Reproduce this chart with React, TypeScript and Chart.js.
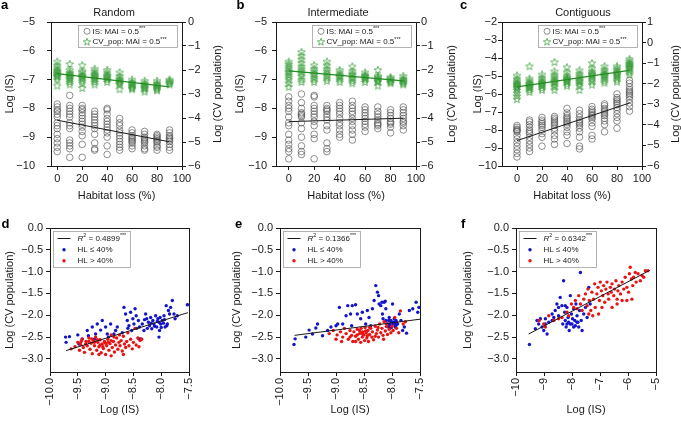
import React, { useEffect, useRef } from 'react';
import { Chart, registerables } from 'chart.js';

Chart.register(...registerables);

const FONT = "'Liberation Sans', Arial, Helvetica, sans-serif";
Chart.defaults.font.family = FONT;

// ---------------- data ----------------
const HABITAT_LOSS = [0, 10, 20, 30, 40, 50, 60, 70, 80, 90];
const FIT_X = [0, 90];

const A_IS = [
  [-7.85, -7.95, -8.05, -8.1, -8.2, -8.3, -8.5, -8.6, -8.7, -8.9, -9.05, -9.2, -9.35, -9.5],
  [-7.55, -7.9, -8.0, -8.1, -8.2, -8.3, -8.5, -8.6, -8.7, -9.1, -9.2, -9.3, -9.4, -9.7],
  [-7.9, -8.0, -8.05, -8.15, -8.25, -8.35, -8.45, -8.55, -8.65, -8.8, -8.95, -9.25, -9.7],
  [-8.1, -8.2, -8.3, -8.4, -8.5, -8.6, -8.7, -8.9, -9.2, -9.4, -9.45],
  [-8.0, -8.05, -8.2, -8.35, -8.45, -8.55, -8.65, -8.75, -8.85, -9.0, -9.3, -9.6],
  [-8.35, -8.5, -8.6, -8.75, -8.85, -8.95, -9.05, -9.15, -9.25, -9.35, -9.45],
  [-8.75, -8.85, -8.95, -9.0, -9.05, -9.1, -9.15, -9.2, -9.3, -9.4],
  [-8.8, -8.9, -9.0, -9.05, -9.1, -9.15, -9.2, -9.3, -9.4, -9.45],
  [-8.9, -8.95, -9.0, -9.05, -9.1, -9.15, -9.2, -9.3, -9.35, -9.45],
  [-8.75, -8.85, -8.95, -9.0, -9.05, -9.1, -9.15, -9.25, -9.35, -9.45],
];
const A_CV = [
  [-1.65, -1.8, -1.9, -2.0, -2.05, -2.1, -2.15, -2.2, -2.25, -2.3, -2.4, -2.65],
  [-1.75, -2.0, -2.1, -2.15, -2.2, -2.25, -2.3, -2.35, -2.4, -2.5, -2.6],
  [-1.8, -2.05, -2.1, -2.2, -2.25, -2.3, -2.35, -2.45, -2.55, -2.75],
  [-1.95, -2.05, -2.15, -2.2, -2.25, -2.3, -2.35, -2.4, -2.5, -2.6],
  [-2.0, -2.1, -2.2, -2.25, -2.3, -2.35, -2.4, -2.5],
  [-2.1, -2.25, -2.35, -2.4, -2.45, -2.5, -2.55, -2.6, -2.8],
  [-2.4, -2.5, -2.55, -2.6, -2.65, -2.7, -2.75, -2.8],
  [-2.45, -2.55, -2.6, -2.65, -2.7, -2.75, -2.8, -2.9],
  [-2.45, -2.55, -2.6, -2.65, -2.7, -2.75, -2.8, -2.85],
  [-2.4, -2.45, -2.5, -2.55, -2.6],
];
const A_IS_FIT = [-8.41, -9.16];
const A_CV_FIT = [-2.15, -2.7];

const B_IS = [
  [-7.6, -7.75, -7.9, -8.0, -8.1, -8.3, -8.5, -8.6, -8.9, -9.1, -9.25, -9.4, -9.5, -9.75],
  [-7.5, -7.8, -8.0, -8.15, -8.2, -8.25, -8.3, -8.5, -8.7, -9.0, -9.3, -9.5, -9.6],
  [-7.55, -7.6, -7.9, -8.0, -8.1, -8.2, -8.3, -8.45, -8.6, -8.9, -9.05, -9.75],
  [-7.9, -8.0, -8.05, -8.1, -8.2, -8.3, -8.4, -8.6, -8.75, -9.2, -9.4, -9.5],
  [-7.8, -7.9, -8.0, -8.1, -8.2, -8.35, -8.5, -8.6, -8.75, -8.9, -9.0],
  [-7.75, -7.9, -8.0, -8.1, -8.2, -8.35, -8.45, -8.6, -8.75, -8.9, -9.1],
  [-7.95, -8.05, -8.15, -8.25, -8.35, -8.45, -8.55, -8.65, -8.8],
  [-7.95, -8.1, -8.2, -8.3, -8.4, -8.5, -8.55, -8.6, -8.7],
  [-8.05, -8.15, -8.25, -8.35, -8.45, -8.5, -8.55, -8.65, -8.85],
  [-7.95, -8.05, -8.15, -8.25, -8.35, -8.45, -8.5, -8.6, -8.75],
];
const B_CV = [
  [-1.65, -1.75, -1.85, -1.95, -2.05, -2.1, -2.2, -2.3, -2.4, -2.55, -2.7],
  [-1.25, -1.4, -1.55, -1.7, -1.85, -1.95, -2.05, -2.15, -2.25, -2.4, -2.5],
  [-1.8, -1.95, -2.05, -2.15, -2.2, -2.3, -2.4, -2.5],
  [-1.65, -1.8, -1.95, -2.05, -2.15, -2.25, -2.35, -2.45],
  [-2.0, -2.1, -2.2, -2.25, -2.3, -2.4, -2.5],
  [-1.85, -2.05, -2.15, -2.2, -2.3, -2.35, -2.45, -2.55],
  [-2.1, -2.2, -2.25, -2.3, -2.35, -2.4, -2.5],
  [-2.0, -2.25, -2.3, -2.35, -2.4, -2.45, -2.5, -2.65],
  [-2.3, -2.35, -2.4, -2.45, -2.5, -2.55],
  [-2.25, -2.35, -2.4, -2.45, -2.5, -2.55, -2.6],
];
const B_IS_FIT = [-8.46, -8.34];
const B_CV_FIT = [-2.04, -2.45];

const C_IS = [
  [-7.75, -7.85, -7.95, -8.0, -8.05, -8.1, -8.3, -8.5, -8.7, -8.9, -9.1, -9.3, -9.5],
  [-7.45, -7.55, -7.7, -7.85, -8.0, -8.1, -8.2, -8.4, -8.6, -8.8, -9.0, -9.2],
  [-7.3, -7.45, -7.55, -7.65, -7.75, -7.85, -8.0, -8.2, -8.4, -8.9],
  [-7.25, -7.35, -7.45, -7.55, -7.65, -7.75, -7.9, -8.05, -8.3, -8.5, -8.8],
  [-6.8, -7.05, -7.2, -7.3, -7.4, -7.5, -7.6, -7.7, -7.85, -8.1, -8.3, -8.75],
  [-6.9, -7.1, -7.3, -7.45, -7.55, -7.65, -7.75, -7.9, -8.1, -8.4, -8.9, -9.05],
  [-6.7, -6.85, -6.95, -7.05, -7.15, -7.2, -7.3, -7.4, -7.6, -7.8, -8.3, -8.5],
  [-6.55, -6.65, -6.8, -6.9, -7.0, -7.1, -7.2, -7.35, -7.5, -7.7, -8.1],
  [-6.0, -6.2, -6.3, -6.4, -6.5, -6.6, -6.75, -6.9, -7.1, -7.3, -7.5, -7.9],
  [-5.25, -5.4, -5.6, -5.75, -5.85, -5.95, -6.05, -6.15, -6.3, -6.5, -6.7, -6.95],
];
const C_CV = [
  [-1.6, -1.75, -1.85, -1.95, -2.0, -2.05, -2.1, -2.15, -2.2, -2.3, -2.45, -2.6, -2.75],
  [-1.15, -1.75, -1.85, -1.95, -2.0, -2.05, -2.1, -2.15, -2.2, -2.3, -2.4],
  [-1.55, -1.7, -1.8, -1.9, -1.95, -2.0, -2.05, -2.1, -2.2, -2.3],
  [-0.95, -1.4, -1.55, -1.65, -1.75, -1.85, -1.9, -1.95, -2.05, -2.15, -2.3],
  [-1.2, -1.45, -1.6, -1.7, -1.75, -1.8, -1.85, -1.9, -2.0, -2.1],
  [-1.35, -1.5, -1.6, -1.7, -1.8, -1.85, -1.9, -2.0, -2.1, -2.3],
  [-1.0, -1.25, -1.4, -1.5, -1.55, -1.6, -1.7, -1.8, -1.9, -2.05],
  [-1.15, -1.3, -1.4, -1.5, -1.55, -1.6, -1.65, -1.75, -1.85, -1.95],
  [-1.15, -1.25, -1.35, -1.45, -1.5, -1.55, -1.6, -1.7, -1.8, -1.9],
  [-0.8, -0.9, -1.0, -1.05, -1.1, -1.15, -1.2, -1.25, -1.35, -1.45, -1.55],
];
const C_IS_FIT = [-8.59, -6.5];
const C_CV_FIT = [-2.15, -1.35];

const D_BLUE = [
  [-9.72, -2.5], [-9.71, -2.62], [-9.65, -2.49], [-9.48, -2.66], [-9.42, -2.54], [-9.33, -2.35], [-9.31, -2.47],
  [-9.24, -2.27], [-9.18, -2.43], [-9.15, -2.2], [-9.09, -2.34], [-9.06, -2.12], [-9.0, -2.27], [-8.97, -2.43],
  [-8.91, -2.2], [-8.85, -2.43], [-8.82, -2.35], [-8.79, -2.27], [-8.67, -1.82], [-8.64, -1.97], [-8.61, -2.12],
  [-8.58, -2.24], [-8.55, -1.93], [-8.53, -2.35], [-8.51, -2.08], [-8.49, -2.2], [-8.47, -1.85], [-8.45, -2.01],
  [-8.41, -2.12], [-8.39, -2.27], [-8.37, -2.54], [-8.34, -2.2], [-8.31, -2.35], [-8.28, -1.97], [-8.26, -2.08],
  [-8.23, -2.16], [-8.21, -2.24], [-8.19, -2.05], [-8.17, -2.31], [-8.15, -2.12], [-8.13, -2.2], [-8.1, -2.01],
  [-8.08, -2.27], [-8.06, -2.08], [-8.04, -2.16], [-8.03, -2.35], [-8.01, -2.2], [-7.98, -2.12], [-7.95, -2.01],
  [-7.93, -2.27], [-7.91, -1.78], [-7.89, -2.2], [-7.87, -1.89], [-7.85, -1.97], [-7.83, -1.82], [-7.8, -1.66],
  [-7.77, -1.97], [-7.75, -2.08], [-7.71, -2.01], [-7.53, -1.76], [-8.04, -2.5], [-8.4, -2.54], [-8.12, -2.25],
  [-8.0, -2.28], [-7.96, -2.18], [-8.07, -2.14], [-7.9, -2.24], [-8.18, -2.18], [-8.02, -2.05], [-7.94, -2.1],
  [-8.25, -2.3], [-8.3, -2.1], [-8.44, -2.3], [-8.6, -2.3], [-8.7, -2.4], [-8.95, -2.5], [-9.2, -2.55], [-9.5, -2.45],
];
const D_RED = [
  [-9.62, -2.77], [-9.55, -2.72], [-9.5, -2.62], [-9.47, -2.8], [-9.45, -2.67], [-9.42, -2.55], [-9.4, -2.74],
  [-9.38, -2.85], [-9.35, -2.6], [-9.33, -2.7], [-9.3, -2.52], [-9.28, -2.78], [-9.26, -2.64], [-9.24, -2.88],
  [-9.22, -2.58], [-9.2, -2.7], [-9.18, -2.5], [-9.16, -2.8], [-9.14, -2.62], [-9.12, -2.72], [-9.1, -2.56],
  [-9.08, -2.86], [-9.06, -2.66], [-9.04, -2.76], [-9.02, -2.6], [-9.0, -2.9], [-8.98, -2.7], [-8.96, -2.55],
  [-8.94, -2.8], [-8.92, -2.65], [-8.9, -2.45], [-8.88, -2.74], [-8.86, -2.6], [-8.84, -2.84], [-8.82, -2.68],
  [-8.8, -2.52], [-8.78, -2.78], [-8.76, -2.62], [-8.74, -2.7], [-8.72, -2.58], [-8.7, -2.82], [-8.68, -2.48],
  [-8.66, -2.66], [-8.64, -2.74], [-8.62, -2.6], [-8.6, -2.4], [-8.58, -2.7], [-8.55, -2.55], [-8.52, -2.77],
  [-8.5, -2.62], [-8.47, -2.3], [-8.45, -2.68], [-8.42, -2.52], [-8.4, -2.72], [-8.38, -2.58], [-8.35, -2.55],
  [-9.3, -2.6], [-9.2, -2.62], [-9.1, -2.68], [-9.0, -2.64], [-8.9, -2.58], [-9.05, -2.72], [-9.15, -2.56],
  [-8.95, -2.62], [-9.36, -2.66], [-8.85, -2.5], [-8.75, -2.45], [-9.25, -2.54], [-9.44, -2.6], [-8.68, -2.9],
  [-8.9, -2.93], [-9.12, -2.9],
];
const D_FIT_X = [-9.71, -7.52];
const D_FIT_Y = [-2.81, -1.94];

const E_BLUE = [
  [-9.75, -2.67], [-9.73, -2.54], [-9.54, -2.5], [-9.48, -2.34], [-9.42, -2.43], [-9.36, -2.29], [-9.33, -2.2],
  [-9.24, -2.47], [-9.15, -2.35], [-9.09, -2.27], [-9.0, -2.24], [-8.97, -2.2], [-8.94, -1.82], [-8.88, -2.2],
  [-8.82, -2.01], [-8.79, -1.78], [-8.74, -1.97], [-8.71, -1.78], [-8.65, -1.76], [-8.62, -1.97], [-8.56, -2.08],
  [-8.53, -1.93], [-8.47, -2.2], [-8.44, -1.89], [-8.41, -2.05], [-8.38, -2.24], [-8.35, -1.85], [-8.32, -1.66],
  [-8.29, -1.32], [-8.26, -1.47], [-8.24, -1.55], [-8.23, -1.74], [-8.2, -1.78], [-8.18, -1.7], [-8.17, -1.97],
  [-8.16, -2.08], [-8.14, -1.7], [-8.12, -1.68], [-8.11, -2.12], [-8.08, -2.2], [-8.06, -2.27], [-8.05, -2.05],
  [-8.04, -2.2], [-8.02, -2.12], [-8.0, -2.16], [-7.99, -1.74], [-7.98, -2.2], [-7.96, -2.08], [-7.94, -2.27],
  [-7.93, -2.12], [-7.92, -2.16], [-7.9, -2.2], [-7.87, -1.97], [-7.84, -2.12], [-7.81, -2.35], [-7.78, -2.27],
  [-7.74, -2.41], [-7.69, -1.89], [-7.63, -1.85], [-7.57, -1.7], [-7.54, -1.93], [-7.52, -1.82], [-8.11, -1.85],
  [-8.53, -2.39], [-8.72, -2.24], [-7.93, -2.24], [-8.03, -2.24], [-7.97, -2.16], [-8.01, -2.28], [-7.95, -2.2],
  [-8.06, -2.12],
];
const E_RED = [
  [-9.12, -2.42], [-9.05, -2.35], [-8.98, -2.45], [-8.92, -2.38], [-8.88, -2.5], [-8.85, -2.3], [-8.82, -2.42],
  [-8.78, -2.55], [-8.75, -2.35], [-8.72, -2.46], [-8.7, -2.6], [-8.68, -2.38], [-8.65, -2.48], [-8.62, -2.32],
  [-8.6, -2.55], [-8.58, -2.42], [-8.56, -2.62], [-8.55, -2.3], [-8.53, -2.5], [-8.52, -2.38], [-8.5, -2.45],
  [-8.49, -2.58], [-8.48, -2.28], [-8.46, -2.4], [-8.45, -2.52], [-8.43, -2.35], [-8.42, -2.6], [-8.4, -2.44],
  [-8.38, -2.3], [-8.36, -2.5], [-8.35, -2.38], [-8.33, -2.56], [-8.3, -2.25], [-8.28, -2.42], [-8.26, -2.34],
  [-8.24, -2.5], [-8.22, -2.2], [-8.2, -2.4], [-8.18, -2.3], [-8.16, -2.46], [-8.14, -2.15], [-8.12, -2.36],
  [-8.1, -2.26], [-8.08, -2.44], [-8.05, -2.32], [-8.02, -2.4], [-8.0, -2.25], [-7.98, -2.35], [-7.95, -2.05],
  [-7.92, -2.3], [-7.88, -2.4], [-7.85, -1.9], [-7.8, -2.2], [-7.76, -2.15], [-8.58, -2.35], [-8.52, -2.44],
  [-8.47, -2.36], [-8.62, -2.45], [-8.44, -2.47], [-8.55, -2.4], [-8.4, -2.28], [-8.3, -2.48], [-8.25, -2.28],
  [-8.1, -2.2], [-8.15, -2.55], [-8.65, -2.6], [-8.75, -2.5], [-8.9, -2.6], [-9.0, -2.55],
];
const E_FIT_X = [-9.74, -7.5];
const E_FIT_Y = [-2.46, -2.09];

const F_BLUE = [
  [-9.52, -2.67], [-9.31, -2.31], [-9.25, -2.12], [-9.19, -2.2], [-9.13, -2.08], [-9.07, -2.27], [-9.01, -2.35],
  [-8.95, -2.2], [-8.89, -2.43], [-8.83, -2.16], [-8.71, -2.12], [-8.65, -2.05], [-8.6, -1.89], [-8.54, -1.74],
  [-8.48, -2.01], [-8.42, -1.59], [-8.36, -1.78], [-8.33, -2.2], [-8.3, -1.21], [-8.26, -1.93], [-8.24, -2.12],
  [-8.21, -2.27], [-8.18, -1.82], [-8.14, -2.05], [-8.12, -2.16], [-8.1, -2.35], [-8.06, -1.55], [-8.02, -1.97],
  [-8.0, -2.2], [-7.98, -2.08], [-7.94, -1.85], [-7.9, -2.12], [-7.88, -2.24], [-7.86, -1.74], [-7.82, -2.01],
  [-7.79, -2.16], [-7.76, -2.27], [-7.73, -1.89], [-7.7, -1.02], [-7.67, -2.12], [-7.64, -2.35], [-7.58, -1.97],
  [-7.52, -1.82], [-7.46, -2.05], [-7.4, -1.36], [-7.35, -1.74], [-8.06, -2.2], [-8.18, -2.2], [-7.94, -2.27],
  [-7.82, -2.16], [-8.71, -1.97], [-8.95, -2.08], [-8.48, -1.82], [-8.24, -1.78],
];
const F_RED = [
  [-9.17, -2.12], [-9.01, -2.2], [-8.95, -2.27], [-8.83, -2.01], [-8.65, -2.12], [-8.48, -2.08], [-8.36, -2.05],
  [-8.18, -1.93], [-8.12, -2.01], [-8.02, -1.74], [-7.94, -1.82], [-7.88, -1.66], [-7.82, -1.85], [-7.76, -1.55],
  [-7.7, -1.74], [-7.64, -1.89], [-7.58, -1.63], [-7.52, -1.51], [-7.46, -1.78], [-7.43, -1.4], [-7.38, -1.66],
  [-7.33, -1.89], [-7.29, -1.47], [-7.23, -1.63], [-7.19, -1.28], [-7.17, -1.82], [-7.11, -1.51], [-7.07, -1.36],
  [-7.02, -1.66], [-6.99, -1.24], [-6.95, -1.44], [-6.9, -1.55], [-6.87, -1.32], [-6.83, -1.7], [-6.79, -1.4],
  [-6.75, -1.24], [-6.71, -1.51], [-6.69, -1.63], [-6.63, -1.36], [-6.6, -1.47], [-6.57, -1.28], [-6.51, -1.55],
  [-6.48, -1.4], [-6.43, -1.21], [-6.39, -1.63], [-6.36, -1.44], [-6.33, -1.32], [-6.27, -1.51], [-6.21, -1.24],
  [-6.15, -1.4], [-6.1, -1.13], [-6.04, -1.36], [-5.98, -1.47], [-5.95, -1.05], [-5.92, -0.9], [-5.88, -1.17],
  [-5.83, -1.32], [-5.8, -1.13], [-5.74, -1.02], [-5.71, -1.24], [-5.64, -1.05], [-5.56, -1.21], [-5.5, -1.09],
  [-5.44, -1.13], [-5.38, -0.98], [-5.29, -0.98], [-6.21, -1.66], [-6.57, -1.82], [-6.93, -1.82], [-7.05, -1.97],
  [-7.26, -2.01], [-7.4, -1.97], [-5.86, -1.63], [-6.04, -1.66], [-6.39, -1.74],
];
const F_FIT_X = [-9.55, -5.22];
const F_FIT_Y = [-2.43, -0.97];

const TOP_X_TICKS = [0, 20, 40, 60, 80, 100];
const AB_Y_TICKS = [-10, -9, -8, -7, -6, -5];
const AB_Y2_TICKS = [-6, -5, -4, -3, -2, -1, 0];
const C_Y_TICKS = [-10, -9, -8, -7, -6, -5, -4, -3, -2];
const C_Y2_TICKS = [-6, -5, -4, -3, -2, -1, 0, 1];
const DE_X_TICKS = [-10, -9.5, -9, -8.5, -8, -7.5];
const F_X_TICKS = [-10, -9, -8, -7, -6, -5];
const BOTTOM_Y_TICKS = [-3, -2.5, -2, -1.5, -1, -0.5, 0];

const MAI_LABELS = ['IS: MAI = 0.5', 'CV_pop: MAI = 0.5'];
const R2_VALUES = ['0.4899', '0.1366', '0.6342'];
const HL_LABELS = ['HL \u2264 40%', 'HL > 40%'];

// ---------------- styling ----------------
const INK = '#1a1a1a';
const GREY = 'rgba(80,80,80,0.8)';
const GREEN = 'rgba(50,155,50,0.9)';
const GREEN_LINE = 'rgb(35,140,35)';
const BLUE = 'rgb(20,20,200)';
const RED = 'rgb(232,20,20)';

const fmt = (v: number, d: number) => (v < 0 ? '\u2212' : '') + Math.abs(v).toFixed(d);

function starPath(ctx: CanvasRenderingContext2D, cx: number, cy: number, ro: number, ri: number) {
  ctx.beginPath();
  for (let i = 0; i < 10; i++) {
    const r = i % 2 === 0 ? ro : ri;
    const a = -Math.PI / 2 + (i * Math.PI) / 5;
    const x = cx + r * Math.cos(a);
    const y = cy + r * Math.sin(a);
    if (i === 0) ctx.moveTo(x, y);
    else ctx.lineTo(x, y);
  }
  ctx.closePath();
}

let starImgCache: HTMLCanvasElement | null = null;
function starImage() {
  if (starImgCache) return starImgCache;
  const c = document.createElement('canvas');
  c.width = 10;
  c.height = 10;
  const g = c.getContext('2d')!;
  starPath(g, 5, 5.3, 4, 1.7);
  g.strokeStyle = GREEN;
  g.lineWidth = 0.8;
  g.stroke();
  starImgCache = c;
  return c;
}

type Part = { t: string; sup?: boolean; italic?: boolean };
type LegendItem = { kind: 'circle' | 'star' | 'line' | 'dot'; color: string; parts: Part[] };

function drawParts(ctx: CanvasRenderingContext2D, parts: Part[], x: number, y: number, size: number) {
  let cx = x;
  for (const p of parts) {
    const fs = p.sup ? size * 0.68 : size;
    ctx.font = `${p.italic ? 'italic ' : ''}${fs}px ${FONT}`;
    ctx.fillText(p.t, cx, y + (p.sup ? -size * 0.33 : 0));
    cx += ctx.measureText(p.t).width;
  }
}

function drawSymbol(ctx: CanvasRenderingContext2D, it: LegendItem, x: number, y: number) {
  ctx.save();
  if (it.kind === 'circle') {
    ctx.beginPath();
    ctx.arc(x, y, 3, 0, Math.PI * 2);
    ctx.strokeStyle = it.color;
    ctx.lineWidth = 0.8;
    ctx.stroke();
  } else if (it.kind === 'star') {
    starPath(ctx, x, y + 0.3, 3.8, 1.6);
    ctx.strokeStyle = it.color;
    ctx.lineWidth = 0.8;
    ctx.stroke();
  } else if (it.kind === 'line') {
    ctx.beginPath();
    ctx.moveTo(x - 6.5, y);
    ctx.lineTo(x + 6.5, y);
    ctx.strokeStyle = it.color;
    ctx.lineWidth = 1;
    ctx.stroke();
  } else {
    ctx.beginPath();
    ctx.arc(x, y, 1.7, 0, Math.PI * 2);
    ctx.fillStyle = it.color;
    ctx.fill();
  }
  ctx.restore();
}

const decorPlugin = {
  id: 'decor',
  afterDraw(chart: any, _args: any, o: any) {
    const ctx = chart.ctx as CanvasRenderingContext2D;
    const ca = chart.chartArea;
    ctx.save();
    const l = Math.round(ca.left) + 0.5;
    const t = Math.round(ca.top) + 0.5;
    const r = Math.round(ca.right) + 0.5;
    const b = Math.round(ca.bottom) + 0.5;
    ctx.strokeStyle = INK;
    ctx.lineWidth = 1;
    ctx.strokeRect(l, t, r - l, b - t);
    ctx.fillStyle = '#000';
    if (o.letter) {
      ctx.font = `bold 13px ${FONT}`;
      ctx.textAlign = 'left';
      ctx.textBaseline = 'alphabetic';
      ctx.fillText(o.letter, o.letterX, o.letterY);
    }
    if (o.title) {
      ctx.font = `11px ${FONT}`;
      ctx.textAlign = 'center';
      ctx.textBaseline = 'middle';
      ctx.fillStyle = INK;
      ctx.fillText(o.title, o.titleX, o.titleY);
    }
    if (o.rightTitle) {
      ctx.save();
      ctx.translate(o.rightTitleX, (ca.top + ca.bottom) / 2);
      ctx.rotate(-Math.PI / 2);
      ctx.font = `11px ${FONT}`;
      ctx.textAlign = 'center';
      ctx.textBaseline = 'middle';
      ctx.fillStyle = INK;
      ctx.fillText(o.rightTitle, 0, 0);
      ctx.restore();
    }
    const lg = o.legend;
    if (lg) {
      const x0 = (lg.anchor === 'tr' ? Math.round(ca.right - lg.dx - lg.w) : Math.round(ca.left + lg.dx)) + 0.5;
      const y0 = Math.round(ca.top + lg.dy) + 0.5;
      ctx.fillStyle = '#fff';
      ctx.fillRect(x0, y0, lg.w, lg.h);
      ctx.strokeStyle = '#a0a0a0';
      ctx.lineWidth = 0.8;
      ctx.strokeRect(x0, y0, lg.w, lg.h);
      (lg.items as LegendItem[]).forEach((it, i) => {
        const cy = y0 + lg.rowY[i];
        drawSymbol(ctx, it, x0 + lg.symX, cy);
        ctx.fillStyle = INK;
        ctx.textAlign = 'left';
        ctx.textBaseline = 'middle';
        drawParts(ctx, it.parts, x0 + lg.textX, cy, 8);
      });
    }
    ctx.restore();
  },
};

const tickFont = { family: FONT, size: 11 };
const titleFont = { family: FONT, size: 11 };

function fixedTicks(values: number[]) {
  return (scale: any) => {
    scale.ticks = values.map((value) => ({ value }));
  };
}

function gridOpts() {
  return { display: true, drawOnChartArea: false, drawTicks: true, tickLength: 4, color: INK, lineWidth: 1 };
}

// Each canvas is a little wider than its panel slot (transparent overlap) so
// right-hand axis titles are not clipped at the slot boundary.
const TOP_CANVAS_W = 237;
const SLOT_W = 227;

type TopSpec = {
  canvasLeft: number;
  L: number;
  R: number;
  yTickPad: number;
  y2TickPad: number;
  yTitlePad: number;
  xMin: number;
  yMin: number;
  yMax: number;
  y2Min: number;
  y2Max: number;
  yTicks: number[];
  y2Ticks: number[];
  is: number[][];
  cv: number[][];
  isFit: number[];
  cvFit: number[];
  letter: string;
  letterX: number;
  letterY: number;
  title: string;
  titleX: number;
  rightTitleX: number;
};

const TOP_SPECS: TopSpec[] = [
  {
    canvasLeft: 0, L: 51, R: 182, yTickPad: 12, y2TickPad: 2, yTitlePad: 3,
    xMin: -5, yMin: -10, yMax: -5, y2Min: -6, y2Max: 0, yTicks: AB_Y_TICKS, y2Ticks: AB_Y2_TICKS,
    is: A_IS, cv: A_CV, isFit: A_IS_FIT, cvFit: A_CV_FIT,
    letter: 'a', letterX: 1, letterY: 9, title: 'Random', titleX: 114, rightTitleX: 218,
  },
  {
    canvasLeft: 227, L: 49, R: 189, yTickPad: 5, y2TickPad: 1, yTitlePad: 6,
    xMin: -10, yMin: -10, yMax: -5, y2Min: -6, y2Max: 0, yTicks: AB_Y_TICKS, y2Ticks: AB_Y2_TICKS,
    is: B_IS, cv: B_CV, isFit: B_IS_FIT, cvFit: B_CV_FIT,
    letter: 'b', letterX: 9.5, letterY: 9, title: 'Intermediate', titleX: 111, rightTitleX: 225,
  },
  {
    canvasLeft: 454, L: 48, R: 188, yTickPad: 1, y2TickPad: 1, yTitlePad: 17,
    xMin: -12, yMin: -10, yMax: -2, y2Min: -6, y2Max: 1, yTicks: C_Y_TICKS, y2Ticks: C_Y2_TICKS,
    is: C_IS, cv: C_CV, isFit: C_IS_FIT, cvFit: C_CV_FIT,
    letter: 'c', letterX: 6, letterY: 9, title: 'Contiguous', titleX: 129, rightTitleX: 222,
  },
];

function topConfig(s: TopSpec): any {
  const isPts = HABITAT_LOSS.flatMap((x, i) => s.is[i].map((y) => ({ x, y })));
  const cvPts = HABITAT_LOSS.flatMap((x, i) => s.cv[i].map((y) => ({ x, y })));
  const rightGap = TOP_CANVAS_W - s.R;
  return {
    type: 'scatter',
    data: {
      datasets: [
        {
          label: 'IS fit', data: FIT_X.map((x, i) => ({ x, y: s.isFit[i] })), showLine: true,
          borderColor: INK, borderWidth: 1, pointRadius: 0, yAxisID: 'y', order: 0,
        },
        {
          label: 'CV_pop fit', data: FIT_X.map((x, i) => ({ x, y: s.cvFit[i] })), showLine: true,
          borderColor: GREEN_LINE, borderWidth: 1.2, pointRadius: 0, yAxisID: 'y2', order: 1,
        },
        {
          label: MAI_LABELS[1], data: cvPts, pointStyle: starImage(), pointRadius: 4,
          borderColor: GREEN, backgroundColor: GREEN, yAxisID: 'y2', order: 2,
        },
        {
          label: MAI_LABELS[0], data: isPts, pointStyle: 'circle', pointRadius: 3.3, pointBorderWidth: 0.8,
          borderColor: GREY, backgroundColor: 'rgba(0,0,0,0)', yAxisID: 'y', order: 3,
        },
      ],
    },
    plugins: [decorPlugin],
    options: {
      responsive: false,
      animation: false,
      events: [],
      layout: { padding: { left: 0, right: 0, top: 22, bottom: 0 } },
      plugins: {
        legend: { display: false },
        tooltip: { enabled: false },
        decor: {
          letter: s.letter, letterX: s.letterX, letterY: s.letterY,
          title: s.title, titleX: s.titleX, titleY: 13,
          rightTitle: 'Log (CV population)', rightTitleX: s.rightTitleX,
          legend: {
            anchor: 'tr', dx: 5, dy: 2.5, w: 99, h: 22, symX: 8.5, textX: 14, rowY: [5.8, 16.3],
            items: [
              { kind: 'circle', color: GREY, parts: [{ t: MAI_LABELS[0] }, { t: '***', sup: true }] },
              { kind: 'star', color: GREEN, parts: [{ t: MAI_LABELS[1] }, { t: '***', sup: true }] },
            ],
          },
        },
      },
      scales: {
        x: {
          type: 'linear', min: s.xMin, max: 100,
          afterBuildTicks: fixedTicks(TOP_X_TICKS),
          afterFit: (sc: any) => { sc.height = 44; },
          grid: gridOpts(), border: { display: false },
          ticks: { font: tickFont, color: INK, padding: 2, maxRotation: 0, autoSkip: false, callback: (v: number) => fmt(v, 0) },
          title: { display: true, text: 'Habitat loss (%)', font: titleFont, color: INK, padding: { top: 0, bottom: 7 } },
        },
        y: {
          type: 'linear', position: 'left', min: s.yMin, max: s.yMax,
          afterBuildTicks: fixedTicks(s.yTicks),
          afterFit: (sc: any) => { sc.width = s.L; },
          grid: gridOpts(), border: { display: false },
          ticks: { font: tickFont, color: INK, padding: s.yTickPad, autoSkip: false, callback: (v: number) => fmt(v, 0) },
          title: { display: true, text: 'Log (IS)', font: titleFont, color: INK, padding: { top: s.yTitlePad, bottom: 0 } },
        },
        y2: {
          type: 'linear', position: 'right', min: s.y2Min, max: s.y2Max,
          afterBuildTicks: fixedTicks(s.y2Ticks),
          afterFit: (sc: any) => { sc.width = rightGap; },
          grid: gridOpts(), border: { display: false },
          ticks: { font: tickFont, color: INK, padding: s.y2TickPad, autoSkip: false, callback: (v: number) => fmt(v, 0) },
        },
      },
    },
  };
}

type BottomSpec = {
  canvasLeft: number;
  L: number;
  rightGap: number;
  yTitlePad: number;
  xMax: number;
  xTicks: number[];
  xDec: number;
  blue: number[][];
  red: number[][];
  fitX: number[];
  fitY: number[];
  r2: string;
  letter: string;
  letterX: number;
};

const BOTTOM_SPECS: BottomSpec[] = [
  { canvasLeft: 0, L: 50, rightGap: 38, yTitlePad: 3, xMax: -7.5, xTicks: DE_X_TICKS, xDec: 1,
    blue: D_BLUE, red: D_RED, fitX: D_FIT_X, fitY: D_FIT_Y, r2: R2_VALUES[0], letter: 'd', letterX: 1.5 },
  { canvasLeft: 227, L: 53, rightGap: 34, yTitlePad: 3, xMax: -7.5, xTicks: DE_X_TICKS, xDec: 1,
    blue: E_BLUE, red: E_RED, fitX: E_FIT_X, fitY: E_FIT_Y, r2: R2_VALUES[1], letter: 'e', letterX: 8 },
  { canvasLeft: 454, L: 62, rightGap: 25, yTitlePad: 7.5, xMax: -5, xTicks: F_X_TICKS, xDec: 0,
    blue: F_BLUE, red: F_RED, fitX: F_FIT_X, fitY: F_FIT_Y, r2: R2_VALUES[2], letter: 'f', letterX: 7 },
];

function bottomConfig(s: BottomSpec): any {
  const toPts = (arr: number[][]) => arr.map(([x, y]) => ({ x, y }));
  return {
    type: 'scatter',
    data: {
      datasets: [
        {
          label: `R\u00b2 = ${s.r2}***`, data: s.fitX.map((x, i) => ({ x, y: s.fitY[i] })), showLine: true,
          borderColor: INK, borderWidth: 1, pointRadius: 0, order: 0,
        },
        { label: HL_LABELS[1], data: toPts(s.red), pointRadius: 1.7, borderWidth: 0, backgroundColor: RED, borderColor: RED, order: 1 },
        { label: HL_LABELS[0], data: toPts(s.blue), pointRadius: 1.7, borderWidth: 0, backgroundColor: BLUE, borderColor: BLUE, order: 2 },
      ],
    },
    plugins: [decorPlugin],
    options: {
      responsive: false,
      animation: false,
      events: [],
      layout: { padding: { left: 0, right: s.rightGap, top: 18, bottom: 0 } },
      plugins: {
        legend: { display: false },
        tooltip: { enabled: false },
        decor: {
          letter: s.letter, letterX: s.letterX, letterY: 18,
          legend: {
            anchor: 'tl', dx: 3, dy: 2.5, w: 77, h: 36, symX: 10.5, textX: 24, rowY: [7, 18.3, 29.3],
            items: [
              { kind: 'line', color: INK, parts: [{ t: 'R', italic: true }, { t: '2', sup: true }, { t: ` = ${s.r2}` }, { t: '***', sup: true }] },
              { kind: 'dot', color: BLUE, parts: [{ t: HL_LABELS[0] }] },
              { kind: 'dot', color: RED, parts: [{ t: HL_LABELS[1] }] },
            ],
          },
        },
      },
      scales: {
        x: {
          type: 'linear', min: -10, max: s.xMax,
          afterBuildTicks: fixedTicks(s.xTicks),
          afterFit: (sc: any) => { sc.height = 50; },
          grid: gridOpts(), border: { display: false },
          ticks: { font: tickFont, color: INK, padding: 2, minRotation: 90, maxRotation: 90, autoSkip: false, callback: (v: number) => fmt(v, s.xDec) },
          title: { display: true, text: 'Log (IS)', font: titleFont, color: INK, padding: { top: 0, bottom: 5 } },
        },
        y: {
          type: 'linear', position: 'left', min: -3.3, max: 0,
          afterBuildTicks: fixedTicks(BOTTOM_Y_TICKS),
          afterFit: (sc: any) => { sc.width = s.L; },
          grid: gridOpts(), border: { display: false },
          ticks: { font: tickFont, color: INK, padding: 3, autoSkip: false, callback: (v: number) => fmt(v, 1) },
          title: { display: true, text: 'Log (CV population)', font: titleFont, color: INK, padding: { top: s.yTitlePad, bottom: 0 } },
        },
      },
    },
  };
}

function ChartCanvas({ make, left, top, width, height }: { make: () => any; left: number; top: number; width: number; height: number }) {
  const ref = useRef<HTMLCanvasElement | null>(null);
  useEffect(() => {
    if (!ref.current) return;
    const chart = new Chart(ref.current, make());
    return () => chart.destroy();
  }, [make]);
  return (
    <canvas
      ref={ref}
      width={width}
      height={height}
      style={{ position: 'absolute', left, top, width, height, display: 'block' }}
    />
  );
}

const TOP_MAKERS = TOP_SPECS.map((s) => () => topConfig(s));
const BOTTOM_MAKERS = BOTTOM_SPECS.map((s) => () => bottomConfig(s));

export default function App() {
  return (
    <div style={{ position: 'fixed', left: 0, top: 0, width: 681, height: 422, background: '#fff', overflow: 'hidden' }}>
      {TOP_SPECS.map((s, i) => (
        <ChartCanvas key={'t' + i} make={TOP_MAKERS[i]} left={s.canvasLeft} top={0} width={TOP_CANVAS_W} height={210} />
      ))}
      {BOTTOM_SPECS.map((s, i) => (
        <ChartCanvas key={'b' + i} make={BOTTOM_MAKERS[i]} left={s.canvasLeft} top={210} width={SLOT_W} height={212} />
      ))}
    </div>
  );
}
